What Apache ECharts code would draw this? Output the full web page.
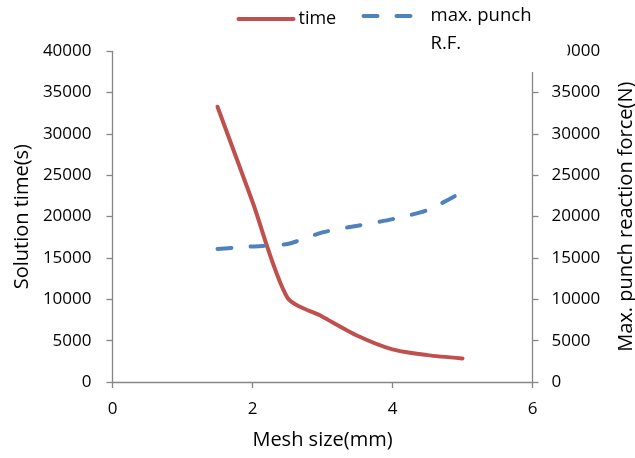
<!DOCTYPE html>
<html>
<head>
<meta charset="utf-8">
<script src="https://cdn.jsdelivr.net/npm/echarts@6/dist/echarts.min.js"></script>
<style>
html,body{margin:0;padding:0;background:#fff;}
#chart{width:635px;height:458px;}
</style>
</head>
<body>
<div id="chart"></div>
<script>
const meshSize = [1.5, 2, 2.5, 3, 3.5, 4, 4.5, 5];
const solutionTime = [33300, 21800, 10200, 7900, 5600, 3950, 3250, 2850];
const punchForce = [16100, 16400, 16700, 18100, 18900, 19700, 20800, 23000];
const xTicks = {min: 0, max: 6, interval: 2};
const yTicks = {min: 0, max: 40000, interval: 5000};

const FONT = '"Open Sans", "Noto Sans", sans-serif';
const AXIS_COLOR = '#868686';

const chart = echarts.init(document.getElementById('chart'), null, {renderer: 'canvas'});

function yAxisCfg(pos, name, gap, margin) {
  return {
    type: 'value', position: pos, name: name, nameLocation: 'middle', nameRotate: 90,
    nameGap: gap,
    nameTextStyle: {fontFamily: FONT, fontSize: 20, color: '#000'},
    min: yTicks.min, max: yTicks.max, interval: yTicks.interval,
    axisLine: {show: true, lineStyle: {color: AXIS_COLOR, width: 1.3}},
    axisTick: {show: true, length: 6, inside: false, lineStyle: {color: AXIS_COLOR, width: 1.3}},
    axisLabel: {fontFamily: FONT, fontSize: 17, color: '#000', margin: margin,
      formatter: function (v) { return String(v); }},
    splitLine: {show: false}
  };
}

const option = {
  animation: false,
  backgroundColor: '#fff',
  grid: {left: 112.5, right: 102.5, top: 51.3, bottom: 76, containLabel: false, outerBoundsMode: 'none'},
  legend: [
    {
      data: ['time'], left: 236.5, top: 10, padding: 0,
      itemWidth: 55, itemHeight: 14, itemGap: 5,
      itemStyle: {opacity: 0},
      lineStyle: {width: 4, cap: 'round'},
      textStyle: {fontFamily: FONT, fontSize: 18, color: '#000'}
    },
    {
      data: ['max. punch R.F.'], left: 361.5, top: -26, padding: [0, 36, 14, 0],
      itemWidth: 50, itemHeight: 14,
      itemStyle: {opacity: 0},
      lineStyle: {width: 4, cap: 'round', type: [14, 19]},
      backgroundColor: '#fff',
      formatter: function () { return '\nmax. punch\nR.F.'; },
      textStyle: {fontFamily: FONT, fontSize: 18.5, color: '#000', lineHeight: 28, padding: [0, 0, 0, 12]}
    }
  ],
  xAxis: {
    type: 'value', min: xTicks.min, max: xTicks.max, interval: xTicks.interval,
    name: 'Mesh size(mm)', nameLocation: 'middle', nameGap: 48,
    nameTextStyle: {fontFamily: FONT, fontSize: 20, color: '#000'},
    axisLine: {show: true, lineStyle: {color: AXIS_COLOR, width: 1.3}},
    axisTick: {show: true, length: 6, lineStyle: {color: AXIS_COLOR, width: 1.3}},
    axisLabel: {fontFamily: FONT, fontSize: 17, color: '#000', margin: 19},
    splitLine: {show: false}
  },
  yAxis: [
    yAxisCfg('left', 'Solution time(s)', 80, 21),
    yAxisCfg('right', 'Max. punch reaction force(N)', 84, 19)
  ],
  series: [
    {
      name: 'time', type: 'line', yAxisIndex: 0,
      data: meshSize.map((x, i) => [x, solutionTime[i]]),
      smooth: 0.25, symbol: 'none', showSymbol: false,
      lineStyle: {color: '#C0504D', width: 4, cap: 'round'},
      itemStyle: {color: '#C0504D'}
    },
    {
      name: 'max. punch R.F.', type: 'line', yAxisIndex: 1,
      data: meshSize.map((x, i) => [x, punchForce[i]]),
      smooth: 0.25, symbol: 'none', showSymbol: false,
      lineStyle: {color: '#4F81BD', width: 4, type: [14, 19], cap: 'round'},
      itemStyle: {color: '#4F81BD'}
    }
  ]
};
chart.setOption(option);
</script>
</body>
</html>
